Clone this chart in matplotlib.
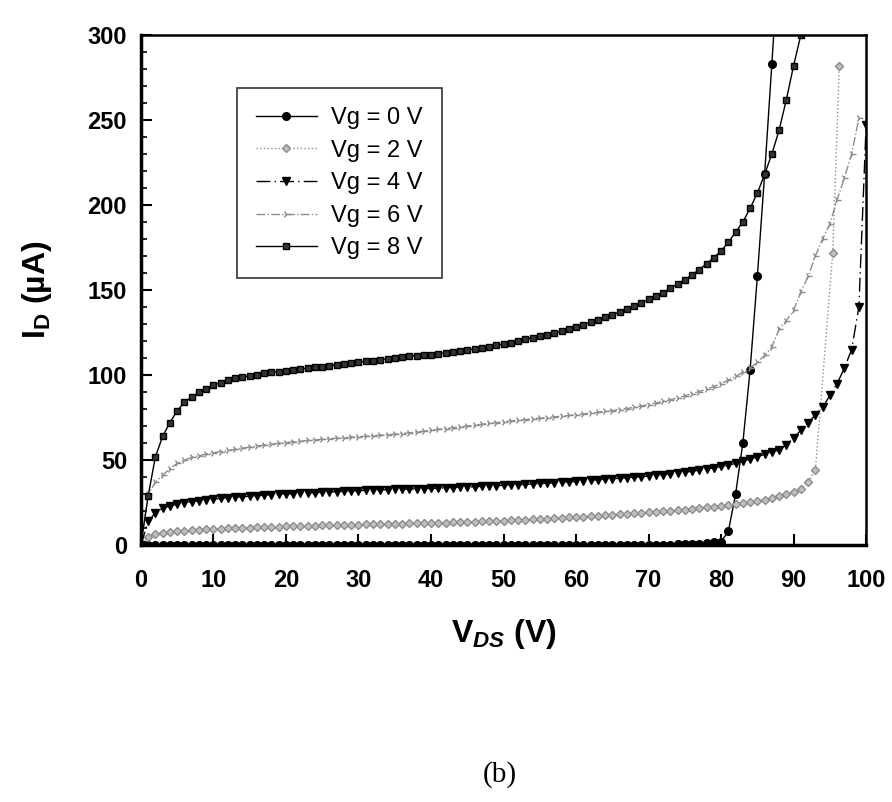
import numpy as np
import matplotlib
matplotlib.use('Agg')
import matplotlib.pyplot as plt
from matplotlib.ticker import MultipleLocator

# V_DS sweep, 1 V steps
vds = list(range(0, 101))

# Vg = 0 V (0..88 V)
id_vg0 = [0, 0, 0, 0, 0, 0, 0, 0, 0, 0,
          0, 0, 0, 0, 0, 0, 0, 0, 0, 0,
          0, 0, 0, 0, 0, 0, 0, 0, 0, 0,
          0, 0, 0, 0, 0, 0, 0, 0, 0, 0,
          0, 0, 0, 0, 0, 0, 0, 0, 0, 0,
          0, 0, 0, 0, 0, 0, 0, 0, 0, 0,
          0, 0, 0, 0, 0, 0, 0, 0, 0, 0,
          0.2, 0.2, 0.3, 0.3, 0.4, 0.5, 0.6, 0.8, 1.2, 1.6,
          2, 8, 30, 60, 103, 158, 218, 283, 350]

# Vg = 2 V (0..93 V, then two breakdown points)
id_vg2 = [0, 5, 6.5, 7.2, 7.7, 8.1, 8.4, 8.7, 9, 9.2,
          9.4, 9.6, 9.8, 10, 10.1, 10.3, 10.4, 10.6, 10.7, 10.8,
          11, 11.1, 11.2, 11.3, 11.4, 11.5, 11.6, 11.7, 11.8, 11.9,
          12, 12.1, 12.2, 12.3, 12.4, 12.5, 12.6, 12.7, 12.8, 12.9,
          13, 13.1, 13.2, 13.3, 13.4, 13.6, 13.7, 13.9, 14, 14.2,
          14.4, 14.6, 14.8, 15, 15.2, 15.4, 15.6, 15.8, 16, 16.2,
          16.5, 16.7, 17, 17.2, 17.5, 17.7, 18, 18.3, 18.6, 18.9,
          19.2, 19.5, 19.8, 20.1, 20.5, 20.9, 21.3, 21.7, 22.1, 22.5,
          23, 23.5, 24, 24.6, 25.2, 25.9, 26.7, 27.6, 28.6, 29.8,
          31.2, 33, 37, 44]
vds_vg2_tail = [95.4, 96.3]
id_vg2_tail = [172, 282]

# Vg = 4 V (0..100 V)
id_vg4 = [0, 14, 19, 21.5, 23, 24, 24.8, 25.5, 26, 26.5,
          27, 27.4, 27.8, 28.1, 28.4, 28.7, 29, 29.3, 29.6, 29.8,
          30, 30.2, 30.4, 30.6, 30.8, 31, 31.2, 31.4, 31.6, 31.8,
          32, 32.1, 32.3, 32.4, 32.5, 32.7, 32.8, 32.9, 33, 33.2,
          33.3, 33.5, 33.6, 33.8, 34, 34.1, 34.3, 34.5, 34.7, 34.9,
          35.1, 35.3, 35.5, 35.7, 35.9, 36.2, 36.4, 36.7, 36.9, 37.2,
          37.5, 37.8, 38.1, 38.4, 38.7, 39, 39.3, 39.6, 39.9, 40.2,
          40.6, 41, 41.4, 41.8, 42.3, 42.8, 43.4, 44, 44.7, 45.4,
          46.2, 47, 48, 49.2, 50.5, 52, 53.3, 54.6, 56, 59,
          63, 67.5, 72, 76.5, 81, 88, 95, 104, 115, 140,
          247]

# Vg = 6 V (0..99 V)
id_vg6 = [0, 30, 37, 41, 45, 48, 50, 51.5, 52.5, 53.5,
          54.3, 55, 55.7, 56.3, 57, 57.6, 58.2, 58.8, 59.3, 59.8,
          60.3, 60.7, 61.1, 61.5, 61.9, 62.2, 62.5, 62.8, 63.1, 63.4,
          63.7, 64, 64.3, 64.6, 64.9, 65.2, 65.6, 66, 66.5, 67,
          67.5, 68, 68.5, 69, 69.5, 70, 70.5, 71, 71.5, 72,
          72.5, 73, 73.4, 73.8, 74.2, 74.6, 75, 75.4, 75.8, 76.2,
          76.6, 77.1, 77.6, 78.1, 78.6, 79.1, 79.7, 80.3, 81, 81.8,
          82.6, 83.5, 84.5, 85.5, 86.5, 87.7, 89, 90.3, 91.7, 93.2,
          95, 97, 99.2, 101.6, 104.2, 107.5, 111.5, 116.5, 127, 132,
          138, 149, 158, 170, 180, 189, 203, 216, 230, 251]

# Vg = 8 V (0..91 V)
id_vg8 = [0, 29, 52, 64, 72, 79, 84, 87, 90, 92,
          94, 95.5, 97, 98, 99, 99.5, 100, 101, 101.5, 102,
          102.5, 103, 103.5, 104, 104.5, 105, 105.5, 106, 106.5, 107,
          107.5, 108, 108.5, 109, 109.5, 110, 110.5, 111, 111.3, 111.7,
          112, 112.5, 113, 113.5, 114, 114.7, 115.3, 116, 116.7, 117.5,
          118.2, 119, 120, 121, 122, 122.8, 123.7, 124.7, 125.7, 127,
          128.3, 129.7, 131, 132.5, 134, 135.5, 137, 138.7, 140.5, 142.5,
          144.5, 146.5, 148.5, 151, 153.5, 156, 159, 162, 165.5, 169,
          173, 178, 184, 190, 198, 207, 218, 230, 244, 262,
          282, 300]

labels = ['Vg = 0 V', 'Vg = 2 V', 'Vg = 4 V', 'Vg = 6 V', 'Vg = 8 V']

plt.rcParams['font.family'] = ['Liberation Sans', 'DejaVu Sans']
plt.rcParams['mathtext.fontset'] = 'custom'
plt.rcParams['mathtext.rm'] = 'Liberation Sans'
plt.rcParams['mathtext.it'] = 'Liberation Sans:italic:bold'
plt.rcParams['mathtext.bf'] = 'Liberation Sans:bold'

fig = plt.figure(figsize=(8.92, 8.02), dpi=100)
ax = fig.add_axes([0.158, 0.3204, 0.813, 0.636])

grey = '0.55'
ax.plot(vds[:len(id_vg0)], id_vg0, color='black', lw=1.0, marker='o', ms=5.5,
        label=labels[0])
ax.plot(vds[:len(id_vg2)] + vds_vg2_tail, id_vg2 + id_vg2_tail, color=grey,
        lw=1.0, ls=':', marker='D', ms=4, mfc='0.75', mec=grey,
        label=labels[1])
ax.plot(vds[:len(id_vg4)], id_vg4, color='black', lw=1.0, ls=(0, (10, 3, 1, 3)),
        marker='v', ms=5.5, label=labels[2])
ax.plot(vds[:len(id_vg6)], id_vg6, color=grey, lw=1.0, ls='-.', marker='4',
        ms=6, mew=1.0, label=labels[3])
ax.plot(vds[:len(id_vg8)], id_vg8, color='black', lw=1.0, marker='s', ms=4.5,
        mfc='0.2', mec='black', label=labels[4])

ax.set_xlim(0, 100)
ax.set_ylim(0, 300)
ax.xaxis.set_major_locator(MultipleLocator(10))
ax.yaxis.set_major_locator(MultipleLocator(50))
ax.yaxis.set_minor_locator(MultipleLocator(10))
ax.tick_params(which='major', direction='in', length=8, width=1.5,
               labelsize=17, pad=10)
ax.tick_params(axis='x', which='major', pad=17)
ax.tick_params(which='minor', direction='in', length=4, width=1.2)
ax.tick_params(axis='x', which='minor', length=0)
for lab in ax.get_xticklabels() + ax.get_yticklabels():
    lab.set_fontweight('bold')
for side in ['left', 'bottom']:
    ax.spines[side].set_linewidth(2.5)
for side in ['top', 'right']:
    ax.spines[side].set_linewidth(1.8)

ax.set_xlabel(r'V$_{\mathit{DS}}$ (V)', fontsize=23, fontweight='bold',
              labelpad=18)
ax.set_ylabel(r'I$_{\mathbf{D}}$ (µA)', fontsize=23, fontweight='bold',
              labelpad=24)

leg = ax.legend(loc='upper left', bbox_to_anchor=(0.132, 0.896),
                borderaxespad=0, fontsize=17, frameon=True, fancybox=False,
                handlelength=2.6, borderpad=0.8, labelspacing=0.45,
                handletextpad=0.6)
leg.get_frame().set_edgecolor('black')
leg.get_frame().set_linewidth(1.2)

fig.text(0.56, 0.034, '(b)', fontsize=21, family='Liberation Serif',
         ha='center', va='center')

fig.savefig('out.png', dpi=100)
